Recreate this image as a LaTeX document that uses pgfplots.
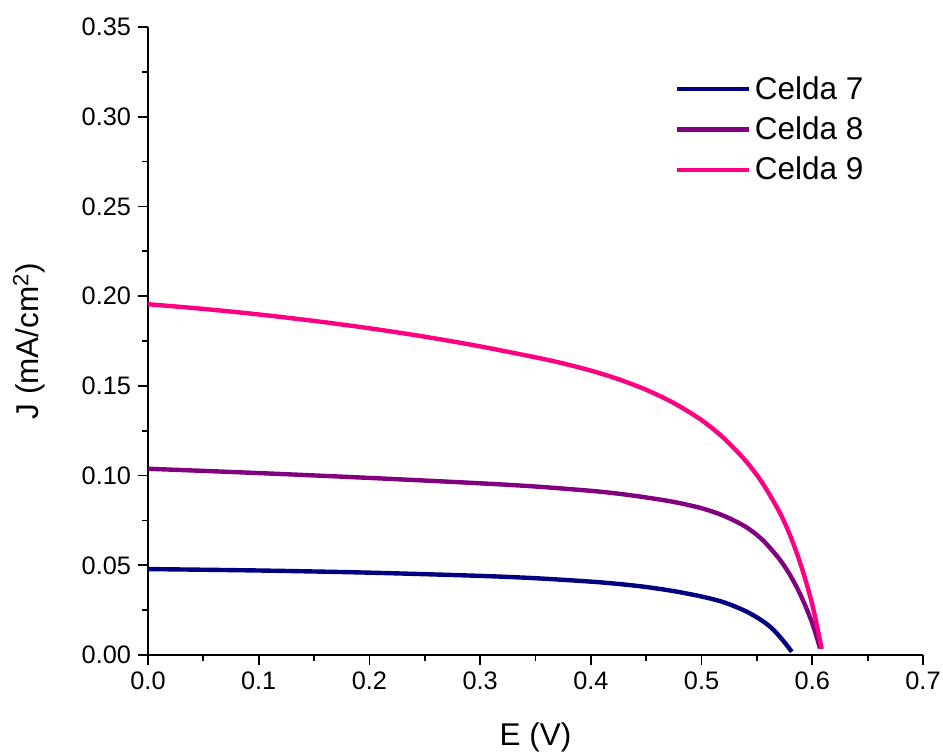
\documentclass[border=0pt]{standalone}
\usepackage{pgfplots}
\pgfplotsset{compat=1.18}
\usepackage{fontspec}
\setmainfont{Liberation Sans}
\definecolor{c7}{HTML}{000080}
\definecolor{c8}{HTML}{800080}
\definecolor{c9}{HTML}{FF0080}
\begin{document}
\begin{tikzpicture}
\begin{axis}[
  name=ax,
  scale only axis,
  width=387.5bp, height=314bp,
  xmin=0, xmax=0.7, ymin=0, ymax=0.35,
  axis x line=bottom, axis y line=left,
  axis line style={-, line width=1bp},
  xtick={0,0.1,...,0.7}, ytick={0,0.05,...,0.35},
  minor tick num=1,
  tick align=outside,
  major tick length=5bp, minor tick length=3bp,
  tick style={black, line width=0.9bp},
  /pgf/number format/assume math mode=true,
  xticklabel style={/pgf/number format/.cd, fixed, fixed zerofill, precision=1},
  yticklabel style={/pgf/number format/.cd, fixed, fixed zerofill, precision=2},
  ticklabel style={font=\fontsize{12.7}{15}\selectfont},
  xlabel={E (V)}, ylabel={J (mA/cm\textsuperscript{2})},
  label style={font=\fontsize{15.8}{18}\selectfont},
  xlabel style={at={(axis description cs:0.5,-0.1306)}, anchor=center},
  ylabel style={at={(axis description cs:-0.1535,0.5)}, anchor=center},
  legend style={draw=none, fill=none, at={(0.671,0.935)}, anchor=north west,
    font=\fontsize{15.8}{18}\selectfont, row sep=3.3bp},
  legend cell align=left,
  legend image post style={line width=2.2bp},
  legend image code/.code={\draw[#1] (0cm,0cm) -- (1.27cm,0cm);},
  every axis plot/.append style={line width=2.2bp, smooth, tension=0.5},
]
\addplot[c7] coordinates {
(0,0.0479) (0.1,0.0471) (0.2,0.0459) (0.3,0.0441) (0.35,0.0428) (0.4,0.0409)
(0.425,0.0396) (0.45,0.0379) (0.475,0.0356) (0.5,0.0326) (0.52,0.0294)
(0.54,0.0244) (0.555,0.0190) (0.565,0.0140) (0.575,0.0070) (0.5815,0.0018)};
\addlegendentry{Celda 7}
\addplot[c8] coordinates {
(0,0.1038) (0.1,0.1014) (0.2,0.0987) (0.3,0.0957) (0.35,0.0939) (0.4,0.0915)
(0.425,0.0899) (0.45,0.0878) (0.475,0.0853) (0.5,0.0818) (0.52,0.0776)
(0.54,0.0714) (0.555,0.0642) (0.57,0.0537) (0.58,0.0445) (0.59,0.0327)
(0.6,0.0177) (0.607,0.0037)};
\addlegendentry{Celda 8}
\addplot[c9] coordinates {
(0,0.1955) (0.05,0.1929) (0.1,0.1898) (0.15,0.1862) (0.2,0.1821) (0.25,0.1774)
(0.3,0.1720) (0.35,0.1659) (0.375,0.1625) (0.4,0.1585) (0.425,0.1537)
(0.45,0.1478) (0.475,0.1404) (0.5,0.1309) (0.52,0.1209) (0.54,0.1081)
(0.555,0.0958) (0.57,0.0801) (0.58,0.0666) (0.59,0.0496) (0.6,0.0281)
(0.6085,0.0034)};
\addlegendentry{Celda 9}
\end{axis}
\pgfresetboundingbox
\path[use as bounding box] ([shift={(-74bp,-49bp)}]ax.south west) rectangle ([shift={(10bp,13.5bp)}]ax.north east);
\end{tikzpicture}
\end{document}
